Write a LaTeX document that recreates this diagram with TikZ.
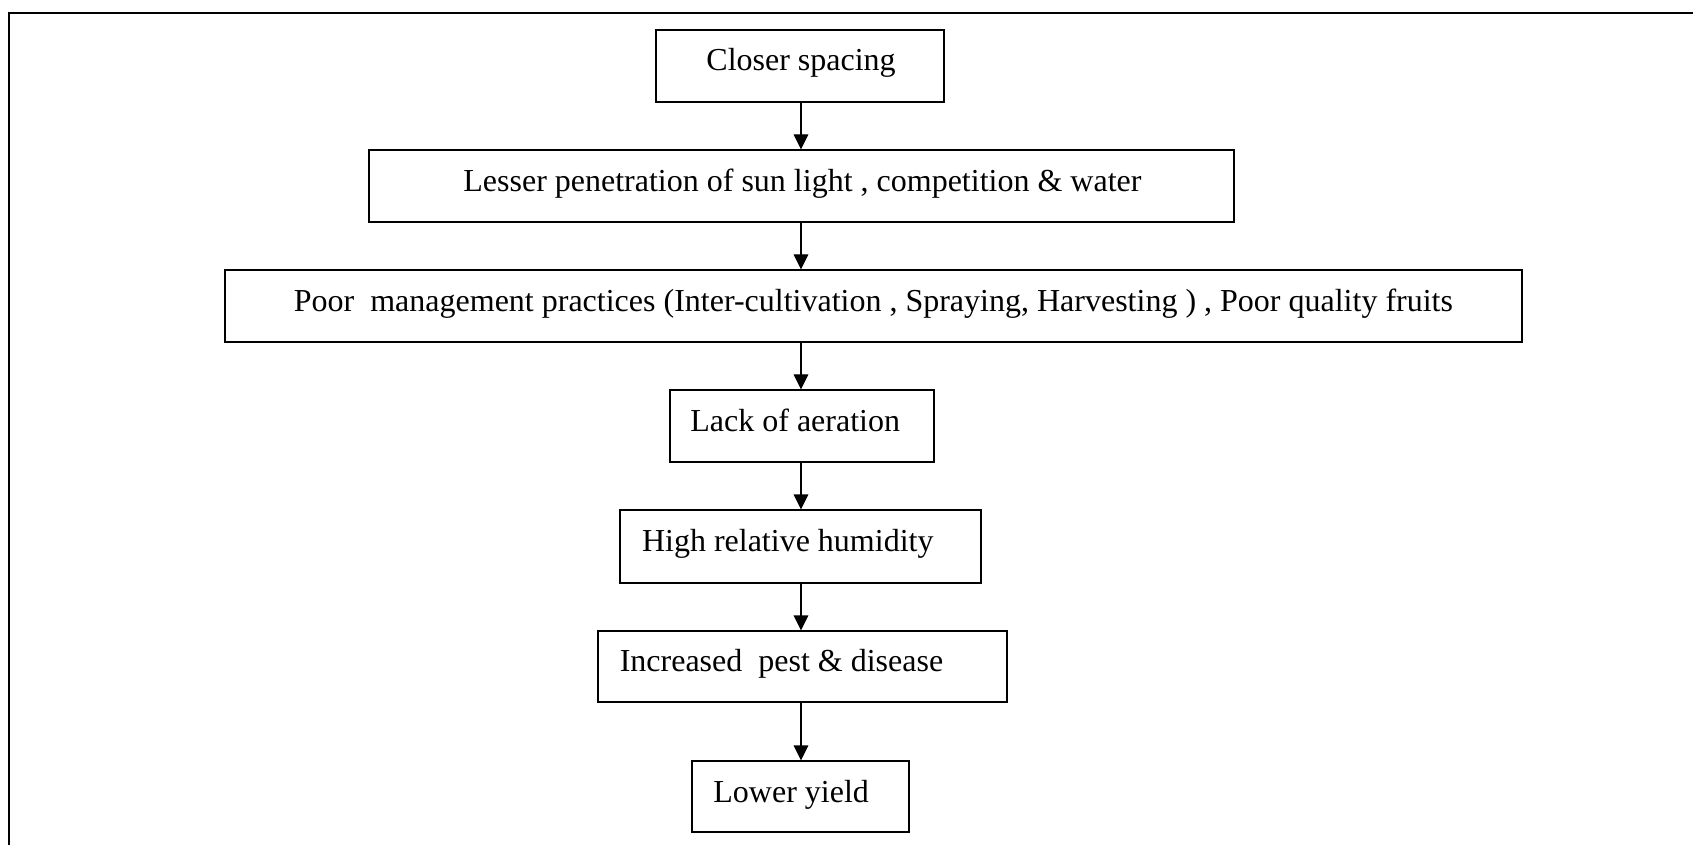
\documentclass[tikz,border=0pt]{standalone}
\usepackage{fontspec}
\setmainfont{Liberation Serif}
\usetikzlibrary{arrows.meta}
\begin{document}
\begin{tikzpicture}[x=0.5pt,y=-0.5pt,
  box/.style={draw,line width=0.65pt,rectangle,inner sep=0pt},
  txt/.style={inner sep=0pt,anchor=base west,font=\fontsize{16}{19}\selectfont},
  flow/.style={line width=0.65pt,-{Triangle[width=7.3pt,length=7.5pt]}}]
\clip (0,0) rectangle (1693,845);
\fill[white] (0,0) rectangle (1693,845);
% outer frame (runs past the right and bottom edges)
\draw[line width=1pt] (9,860) -- (9,13) -- (1710,13);

% boxes
\node[box,minimum width=144pt,minimum height=36pt]   (b1) at (800,66) {};
\node[box,minimum width=432.5pt,minimum height=36pt] (b2) at (801.5,186) {};
\node[box,minimum width=648.5pt,minimum height=36pt] (b3) at (873.5,306) {};
\node[box,minimum width=132pt,minimum height=36pt]   (b4) at (802,426) {};
\node[box,minimum width=180.5pt,minimum height=36.5pt] (b5) at (800.5,546.5) {};
\node[box,minimum width=204.5pt,minimum height=35.5pt] (b6) at (802.5,666.5) {};
\node[box,minimum width=108.5pt,minimum height=35.5pt] (b7) at (800.5,796.5) {};

% labels
\node[txt] (t1) at (706,71)   {Closer spacing};
\node[txt] (t2) at (463,192)  {Lesser penetration of sun light , competition \& water};
\node[txt] (t3) at (293.5,312) {Poor\ \ management practices (Inter-cultivation , Spraying, Harvesting ) , Poor quality fruits};
\node[txt] (t4) at (690,431)  {Lack of aeration};
\node[txt] (t5) at (641.6,551) {High relative humidity};
\node[txt] (t6) at (619.4,671) {Increased\ \ pest \& disease};
\node[txt] (t7) at (713,802)  {Lower yield};

% vertical axis of the arrows
\coordinate (ax) at (801,0);
\draw[flow] (b1.south -| ax) -- (b2.north -| ax);
\draw[flow] (b2.south -| ax) -- (b3.north -| ax);
\draw[flow] (b3.south -| ax) -- (b4.north -| ax);
\draw[flow] (b4.south -| ax) -- (b5.north -| ax);
\draw[flow] (b5.south -| ax) -- (b6.north -| ax);
\draw[flow] (b6.south -| ax) -- (b7.north -| ax);
\end{tikzpicture}
\end{document}
